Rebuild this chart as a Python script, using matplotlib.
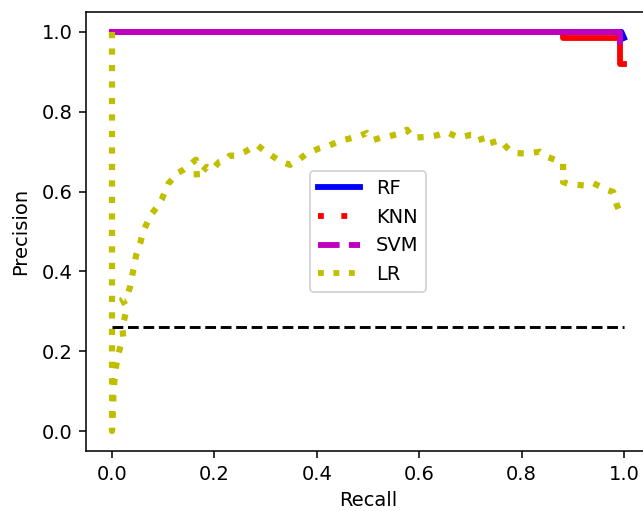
import matplotlib
matplotlib.use("Agg")
import matplotlib.pyplot as plt
from matplotlib.lines import Line2D

# Random Forest
rf_recall = [0.0, 0.995, 1.0]
rf_precision = [1.0, 1.0, 0.985]

# KNN
knn_recall = [0.0, 0.88, 0.88, 0.992, 0.992, 1.0]
knn_precision = [1.0, 1.0, 0.985, 0.985, 0.92, 0.92]

# SVM
svm_recall = [0.0, 0.992, 0.992]
svm_precision = [1.0, 1.0, 0.975]

# Logistic Regression (recall ascending, starting at (0, 1))
lr_recall = [0.0, 0.0, 0.002, 0.003, 0.006, 0.010, 0.016, 0.022, 0.020, 0.024,
             0.029, 0.020, 0.030, 0.035, 0.041, 0.047, 0.055, 0.061, 0.068, 0.075,
             0.087, 0.097, 0.110, 0.117, 0.125, 0.133, 0.140, 0.152, 0.164, 0.166,
             0.170, 0.185, 0.195, 0.210, 0.222, 0.230, 0.240, 0.260, 0.283, 0.300,
             0.318, 0.330, 0.348, 0.365, 0.380, 0.406, 0.425, 0.440, 0.455, 0.470,
             0.485, 0.498, 0.510, 0.525, 0.537, 0.560, 0.576, 0.588, 0.600, 0.615,
             0.635, 0.654, 0.674, 0.685, 0.700, 0.719, 0.725, 0.740, 0.758, 0.770,
             0.783, 0.810, 0.836, 0.850, 0.865, 0.881, 0.881, 0.890, 0.908, 0.925,
             0.940, 0.955, 0.967, 0.979, 0.982, 0.986, 0.990, 0.998, 1.000]
lr_precision = [1.0, 0.0, 0.060, 0.100, 0.145, 0.180, 0.210, 0.235, 0.260, 0.280,
                0.310, 0.330, 0.340, 0.360, 0.400, 0.440, 0.470, 0.500, 0.520, 0.540,
                0.560, 0.580, 0.620, 0.630, 0.645, 0.650, 0.655, 0.667, 0.680, 0.634,
                0.640, 0.662, 0.654, 0.675, 0.680, 0.690, 0.690, 0.700, 0.717, 0.700,
                0.685, 0.675, 0.667, 0.680, 0.695, 0.709, 0.716, 0.724, 0.730, 0.735,
                0.740, 0.747, 0.729, 0.735, 0.737, 0.745, 0.755, 0.734, 0.736, 0.737,
                0.741, 0.749, 0.737, 0.737, 0.742, 0.742, 0.717, 0.722, 0.729, 0.712,
                0.697, 0.695, 0.700, 0.687, 0.680, 0.672, 0.624, 0.620, 0.617, 0.615,
                0.621, 0.612, 0.604, 0.599, 0.585, 0.566, 0.555, 0.546, 0.545]

# Baseline (no-skill)
baseline_x = [0.0, 1.0]
baseline_y = [0.26, 0.26]

labels = ["RF", "KNN", "SVM", "LR"]

DPI = 140
fig = plt.figure(figsize=(643 / DPI, 511 / DPI), dpi=DPI)
ax = fig.add_axes([86.4 / 643, 60 / 511, 563.2 / 643, 439 / 511])

ax.plot(rf_recall, rf_precision, color="b", lw=3)
ax.plot(knn_recall, knn_precision, color="r", lw=3)
ax.plot(svm_recall, svm_precision, color="m", lw=3)
ax.plot(lr_recall, lr_precision, color="y", lw=3.2, linestyle=":")
ax.plot(baseline_x, baseline_y, "k--", lw=1.5)

handles = [
    Line2D([], [], color="b", lw=3, linestyle="-"),
    Line2D([], [], color="r", lw=3, linestyle=(0, (1, 3.0))),
    Line2D([], [], color="m", lw=3, linestyle="--"),
    Line2D([], [], color="y", lw=3, linestyle=":"),
]
ax.legend(handles, labels, loc="center", handlelength=2.2)

ax.set_xlim(-0.05, 1.05)
ax.set_ylim(-0.05, 1.05)
ax.set_xticks([0.0, 0.2, 0.4, 0.6, 0.8, 1.0])
ax.set_yticks([0.0, 0.2, 0.4, 0.6, 0.8, 1.0])
ax.set_xlabel("Recall")
ax.set_ylabel("Precision", labelpad=6)

fig.savefig("out.png", dpi=DPI)
